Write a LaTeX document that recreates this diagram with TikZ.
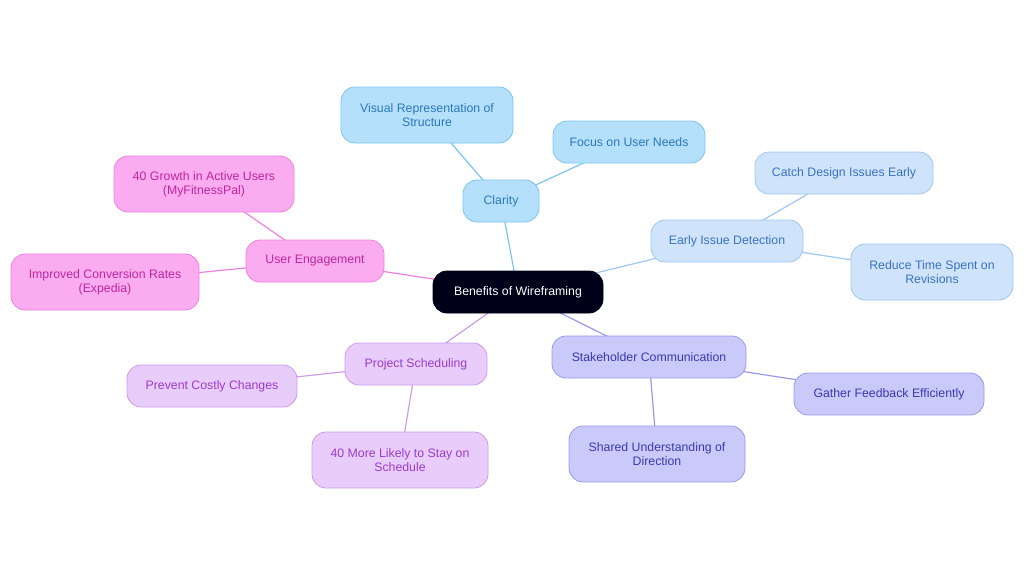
\documentclass[tikz,border=0pt]{standalone}
\usepackage{fontspec}
\setmainfont{Liberation Sans}
\usetikzlibrary{backgrounds}
\definecolor{cF}{HTML}{B5E0FC}\definecolor{cD}{HTML}{7CC4F0}\definecolor{cT}{HTML}{2A78BC}
\definecolor{eF}{HTML}{CFE4FA}\definecolor{eD}{HTML}{9EC7F0}\definecolor{eT}{HTML}{3A72C2}
\definecolor{sF}{HTML}{C9C9FA}\definecolor{sD}{HTML}{9A9AEB}\definecolor{sT}{HTML}{3A3AAE}
\definecolor{pF}{HTML}{E8CCFA}\definecolor{pD}{HTML}{CB9DE8}\definecolor{pT}{HTML}{9A3CCB}
\definecolor{uF}{HTML}{FBACF0}\definecolor{uD}{HTML}{EE80E0}\definecolor{uT}{HTML}{C0259F}
\tikzset{
 bx/.style={rounded corners=14pt,align=center,font=\fontsize{12.3}{14}\selectfont,inner sep=0pt,line width=0.8pt},
 cl/.style={bx,fill=cF,draw=cD,text=cT},
 ei/.style={bx,fill=eF,draw=eD,text=eT},
 st/.style={bx,fill=sF,draw=sD,text=sT},
 ps/.style={bx,fill=pF,draw=pD,text=pT},
 ue/.style={bx,fill=uF,draw=uD,text=uT},
 ln/.style={line width=1.2pt}
}
\begin{document}
\begin{tikzpicture}[x=1pt,y=-1pt]
\useasboundingbox (0,0) rectangle (1024,578);
\node[bx,fill=black!90!blue,draw=black!90!blue,text=white,minimum width=170,minimum height=42] (c) at (518,292) {Benefits of Wireframing};
\node[cl,minimum width=76,minimum height=42] (cla) at (501,201) {Clarity};
\node[cl,minimum width=172,minimum height=56] (cla1) at (427,115) {Visual Representation of\\Structure};
\node[cl,minimum width=152,minimum height=42] (cla2) at (629,142) {Focus on User Needs};
\node[ei,minimum width=152,minimum height=42] (ei) at (727,241) {Early Issue Detection};
\node[ei,minimum width=178,minimum height=42] (ei1) at (844,173) {Catch Design Issues Early};
\node[ei,minimum width=162,minimum height=56] (ei2) at (932,272) {Reduce Time Spent on\\Revisions};
\node[st,minimum width=194,minimum height=42] (st) at (649,357) {Stakeholder Communication};
\node[st,minimum width=190,minimum height=42] (st1) at (889,394) {Gather Feedback Efficiently};
\node[st,minimum width=176,minimum height=56] (st2) at (657,454) {Shared Understanding of\\Direction};
\node[ps,minimum width=142,minimum height=42] (ps) at (416,364) {Project Scheduling};
\node[ps,minimum width=170,minimum height=42] (ps1) at (212,386) {Prevent Costly Changes};
\node[ps,minimum width=176,minimum height=56] (ps2) at (400,460) {40 More Likely to Stay on\\Schedule};
\node[ue,minimum width=138,minimum height=42] (ue) at (315,261) {User Engagement};
\node[ue,minimum width=180,minimum height=56] (ue1) at (204,184) {40 Growth in Active Users\\(MyFitnessPal)};
\node[ue,minimum width=188,minimum height=56] (ue2) at (105,282) {Improved Conversion Rates\\(Expedia)};
\begin{scope}[on background layer]
\draw[ln,cD] (c.center)--(cla.center) (cla.center)--(cla1.center) (cla.center)--(cla2.center);
\draw[ln,eD] (c.center)--(ei.center) (ei.center)--(ei1.center) (ei.center)--(ei2.center);
\draw[ln,sD] (c.center)--(st.center) (st.center)--(st1.center) (st.center)--(st2.center);
\draw[ln,pD] (c.center)--(ps.center) (ps.center)--(ps1.center) (ps.center)--(ps2.center);
\draw[ln,uD] (c.center)--(ue.center) (ue.center)--(ue1.center) (ue.center)--(ue2.center);
\end{scope}
\end{tikzpicture}
\end{document}
